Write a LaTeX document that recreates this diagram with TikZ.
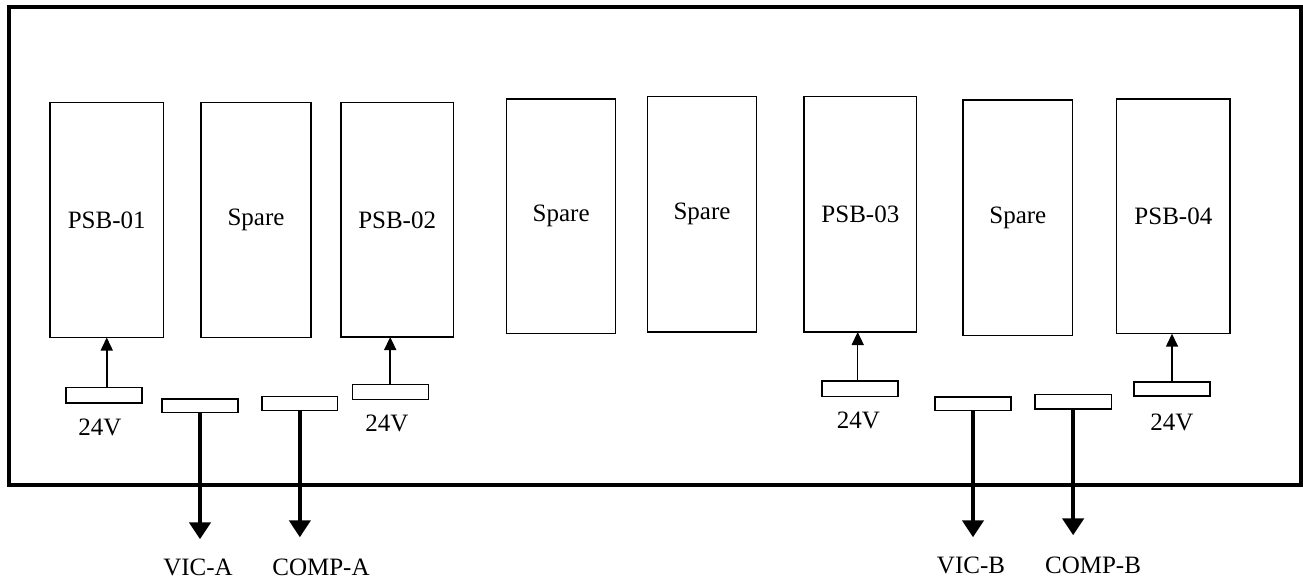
\documentclass[tikz,border=0pt]{standalone}
\usepackage{fontspec}
\setmainfont{Liberation Serif}
\usetikzlibrary{arrows.meta}
\begin{document}
\begin{tikzpicture}[x=1pt,y=-1pt,
  lbl/.style={font=\fontsize{25pt}{30pt}\selectfont},
  frame/.style={draw=black,line width=3.8pt},
  slot/.style={draw=black,line width=1.4pt,rectangle,inner sep=0pt,outer sep=0pt,lbl},
  conn/.style={draw=black,line width=1.4pt,rectangle,inner sep=0pt,outer sep=0pt},
  txt/.style={lbl,inner sep=0pt,anchor=base},
  thin/.style={draw=black,line width=1.5pt,-{Triangle[length=13pt,width=12pt]}},
  thick/.style={draw=black,line width=4.3pt,-{Triangle[length=17pt,width=21pt]}}]
\useasboundingbox (0,0) rectangle (1303,581);
\draw[frame] (9,6.7) rectangle (1301,484.7);
% module boxes
\node[slot,minimum width=113.5pt,minimum height=234.8pt] (psb1) at (106.75,220.1) {PSB-01};
\node[slot,minimum width=110pt,minimum height=234.6pt] (sp1) at (256,220) {Spare};
\node[slot,minimum width=112.3pt,minimum height=234.3pt] (psb2) at (397.15,219.85) {PSB-02};
\node[slot,minimum width=109pt,minimum height=234.7pt] (sp2) at (561.2,216.35) {Spare};
\node[slot,minimum width=109.4pt,minimum height=235.3pt] (sp3) at (702,214.35) {Spare};
\node[slot,minimum width=112.7pt,minimum height=235.3pt] (psb3) at (860.35,214.35) {PSB-03};
\node[slot,minimum width=109.7pt,minimum height=235.5pt] (sp4) at (1017.85,217.75) {Spare};
\node[slot,minimum width=113.3pt,minimum height=234.7pt] (psb4) at (1173.35,216.35) {PSB-04};
% connectors
\node[conn,minimum width=76pt,minimum height=15.3pt] (v1) at (104,395.35) {};
\node[conn,minimum width=76pt,minimum height=14.8pt] (v2) at (390.2,391.8) {};
\node[conn,minimum width=76pt,minimum height=15.7pt] (v3) at (860,388.85) {};
\node[conn,minimum width=76pt,minimum height=14pt] (v4) at (1172,389) {};
\node[conn,minimum width=76pt,minimum height=13.7pt] (va) at (200,405.85) {};
\node[conn,minimum width=75.7pt,minimum height=14pt] (ca) at (299.85,403.7) {};
\node[conn,minimum width=76pt,minimum height=13.3pt] (vb) at (973,403.65) {};
\node[conn,minimum width=76.3pt,minimum height=14.3pt] (cb) at (1073.15,401.85) {};
% 24V arrows
\draw[thin] (psb1.south |- v1.north) -- (psb1.south);
\draw[thin] (v2.north) -- (v2.north |- psb2.south);
\draw[thin] ([xshift=-2.3pt]v3.north) -- ([xshift=-2.3pt]v3.north |- psb3.south);
\draw[thin] (v4.north) -- (v4.north |- psb4.south);
% outgoing arrows
\coordinate (tva) at (200,539.3);
\coordinate (tca) at (299.85,537.3);
\coordinate (tvb) at (973,537.3);
\coordinate (tcb) at (1073.15,535.3);
\draw[thick] (va.south) -- (tva);
\draw[thick] (ca.south) -- (tca);
\draw[thick] (vb.south) -- (tvb);
\draw[thick] (cb.south) -- (tcb);
% labels
\node[txt] (l1) at (100,435) {24V};
\node[txt] (l2) at (387,431) {24V};
\node[txt] (l3) at (858.3,428.3) {24V};
\node[txt] (l4) at (1172,430) {24V};
\node[txt] (lva) at (198,575.5) {VIC-A};
\node[txt] (lca) at (321,575.5) {COMP-A};
\node[txt] (lvb) at (971,573.5) {VIC-B};
\node[txt] (lcb) at (1093,573.5) {COMP-B};
\end{tikzpicture}
\end{document}
